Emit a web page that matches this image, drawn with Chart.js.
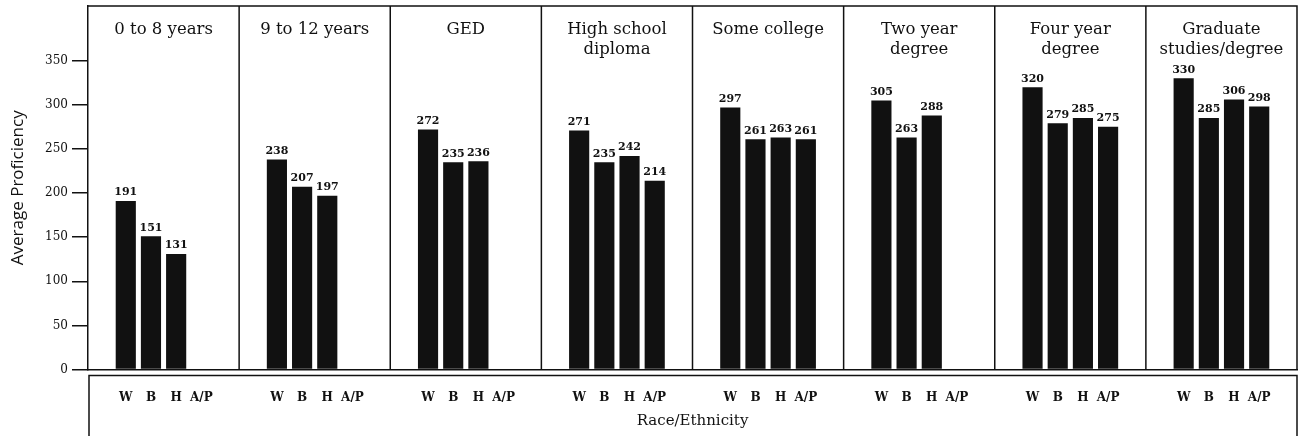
<!DOCTYPE html>
<html>
<head>
<meta charset="utf-8">
<script src="https://cdn.jsdelivr.net/npm/chart.js@4.4.1/dist/chart.umd.min.js"></script>
<style>
  html, body { margin: 0; padding: 0; background: #fff; }
  #wrap { width: 1302px; height: 436px; position: relative; }
</style>
</head>
<body>
<div id="wrap"><canvas id="chart"></canvas></div>
<script>
// education levels (one panel each)
const panels = ['0 to 8 years', '9 to 12 years', 'GED', ['High school', 'diploma'], 'Some college',
  ['Two year', 'degree'], ['Four year', 'degree'], ['Graduate', 'studies/degree']];
const groups = ['W', 'B', 'H', 'A/P'];

const white = [191, 238, 272, 271, 297, 305, 320, 330];
const black = [151, 207, 235, 235, 261, 263, 279, 285];
const hispanic = [131, 197, 236, 242, 263, 288, 285, 306];
const asianPacific = [null, null, null, 214, 261, null, 275, 298];

const yTicks = [0, 50, 100, 150, 200, 250, 300, 350];

const INK = '#111';
const SLOTS = 6; // blank, W, B, H, A/P, blank

// flatten panels into one category axis
const labels = [];
const values = [];
panels.forEach((p, i) => {
  const row = [white[i], black[i], hispanic[i], asianPacific[i]];
  labels.push('');
  values.push(null);
  groups.forEach((g, j) => {
    labels.push(g);
    values.push(row[j]);
  });
  labels.push('');
  values.push(null);
});

function panelEdges(xs) {
  const edges = [xs.left];
  for (let p = 1; p < panels.length; p++) {
    const a = xs.getPixelForValue(p * SLOTS - 1);
    const b = xs.getPixelForValue(p * SLOTS);
    edges.push((a + b) / 2);
  }
  edges.push(xs.right);
  return edges;
}

const framePlugin = {
  id: 'frame',
  afterDraw(chart) {
    const { ctx, chartArea: ca } = chart;
    const xs = chart.scales.x;
    const edges = panelEdges(xs);
    ctx.save();
    ctx.strokeStyle = INK;
    ctx.lineWidth = 1.5;
    // outer frame
    ctx.beginPath();
    ctx.moveTo(ca.left, ca.top);
    ctx.lineTo(ca.right, ca.top);
    ctx.lineTo(ca.right, ca.bottom);
    ctx.stroke();
    // panel dividers
    edges.slice(1, -1).forEach(x => {
      ctx.beginPath();
      ctx.moveTo(x, ca.top);
      ctx.lineTo(x, ca.bottom);
      ctx.stroke();
    });
    // box under the axis
    const boxTop = ca.bottom + 6;
    ctx.beginPath();
    ctx.moveTo(ca.left + 1, chart.height + 2);
    ctx.lineTo(ca.left + 1, boxTop);
    ctx.lineTo(ca.right, boxTop);
    ctx.lineTo(ca.right, chart.height + 2);
    ctx.stroke();

    // panel titles
    ctx.fillStyle = INK;
    ctx.font = '16.5px "DejaVu Serif"';
    ctx.textAlign = 'center';
    ctx.textBaseline = 'middle';
    panels.forEach((t, i) => {
      const cx = (edges[i] + edges[i + 1]) / 2;
      const lines = Array.isArray(t) ? t : [t];
      lines.forEach((ln, k) => ctx.fillText(ln, cx, ca.top + 24 + k * 20));
    });

    // value labels
    ctx.font = 'bold 11px "DejaVu Serif"';
    ctx.textBaseline = 'bottom';
    const meta = chart.getDatasetMeta(0);
    meta.data.forEach((bar, i) => {
      const v = values[i];
      if (v == null) return;
      ctx.fillText(String(v), bar.x, bar.y - 3);
    });
    ctx.restore();
  }
};

new Chart(document.getElementById('chart'), {
  type: 'bar',
  data: {
    labels: labels,
    datasets: [{
      data: values,
      backgroundColor: INK,
      borderWidth: 0,
      barPercentage: 0.8,
      categoryPercentage: 1
    }]
  },
  options: {
    responsive: true,
    maintainAspectRatio: false,
    animation: false,
    layout: { padding: { top: 6, right: 5, left: 0, bottom: 0 } },
    plugins: {
      legend: { display: false },
      tooltip: { enabled: false }
    },
    scales: {
      x: {
        grid: { display: false },
        border: { display: true, color: INK, width: 1.5 },
        ticks: {
          autoSkip: false,
          maxRotation: 0,
          padding: 13,
          color: INK,
          font: { family: 'DejaVu Serif', size: 12, weight: 'bold' }
        },
        title: {
          display: true,
          text: 'Race/Ethnicity',
          color: INK,
          font: { family: 'DejaVu Serif', size: 15 },
          padding: { top: 0, bottom: 6 }
        },
        afterFit(scale) {
          scale.height = 66.5;
          scale.paddingLeft = 0;
          scale.paddingRight = 0;
        }
      },
      y: {
        min: 0,
        max: 412,
        afterBuildTicks(scale) { scale.ticks = yTicks.map(v => ({ value: v })); },
        grid: { drawOnChartArea: false, drawTicks: true, tickLength: 16, color: INK, lineWidth: 1.5 },
        border: { display: true, color: INK, width: 1.5 },
        ticks: {
          padding: 4,
          color: INK,
          font: { family: 'DejaVu Serif', size: 12 }
        },
        title: {
          display: true,
          text: 'Average Proficiency',
          color: INK,
          font: { family: 'Open Sans', size: 17 },
          padding: { top: 8, bottom: 0 }
        },
        afterFit(scale) {
          scale.width = 88;
          scale.paddingTop = 0;
          scale.paddingBottom = 0;
        }
      }
    }
  },
  plugins: [framePlugin]
});
</script>
</body>
</html>
